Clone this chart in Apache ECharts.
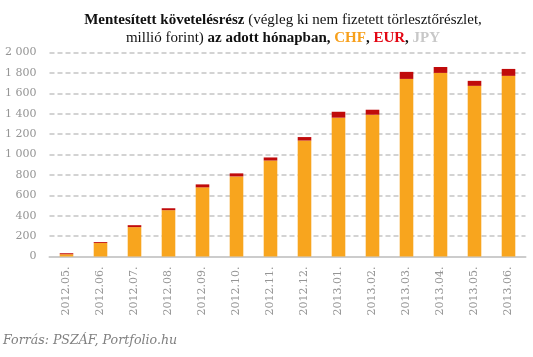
<!DOCTYPE html>
<html><head><meta charset="utf-8">
<script src="https://cdn.jsdelivr.net/npm/echarts@6/dist/echarts.min.js"></script>
<style>html,body{margin:0;padding:0;background:#fff}#c{width:533px;height:357px}</style>
</head><body><div id="c"></div>
<script>
var categories = ['2012.05.','2012.06.','2012.07.','2012.08.','2012.09.','2012.10.','2012.11.','2012.12.','2013.01.','2013.02.','2013.03.','2013.04.','2013.05.','2013.06.'];
var chf = [22, 132, 288, 454, 678, 785, 941, 1137, 1361, 1390, 1741, 1800, 1673, 1771];
var eur = [10, 9, 19, 19, 29, 30, 30, 34, 58, 49, 69, 58, 49, 68];
var jpy = [0, 0, 0, 0, 0, 0, 0, 0, 0, 0, 0, 0, 0, 0];
var yTicks = [0, 200, 400, 600, 800, 1000, 1200, 1400, 1600, 1800, 2000];

var serif = '"Liberation Serif", "DejaVu Serif", serif';
var dserif = '"DejaVu Serif", serif';
var chart = echarts.init(document.getElementById('c'));
chart.setOption({
  animation: false,
  title: {
    left: 278, top: 6, textAlign: 'center',
    text: '{b|Mentesített követelésrész} {n|(végleg ki nem fizetett törlesztőrészlet,}\n{n|millió forint)} {b|az adott hónapban,} {chf|CHF}{b|,} {eur|EUR}{b|,} {jpy|JPY}',
    textStyle: {
      fontFamily: serif, fontSize: 15, lineHeight: 18,
      rich: {
        b: {fontFamily: serif, fontSize: 15, fontWeight: 'bold', color: '#111', lineHeight: 18},
        n: {fontFamily: serif, fontSize: 15, fontWeight: 'normal', color: '#111', lineHeight: 18},
        chf: {fontFamily: serif, fontSize: 15, fontWeight: 'bold', color: '#F7A01C', lineHeight: 18},
        eur: {fontFamily: serif, fontSize: 15, fontWeight: 'bold', color: '#E30613', lineHeight: 18},
        jpy: {fontFamily: serif, fontSize: 15, fontWeight: 'bold', color: '#C8C8C8', lineHeight: 18}
      }
    }
  },
  graphic: [{
    type: 'text', left: 3, top: 334,
    style: {text: 'Forrás: PSZÁF, Portfolio.hu', font: 'italic 12.6px ' + dserif, fill: '#808080'}
  }],
  grid: {left: 49.5, right: 7.5, top: 52.5, bottom: 100.5},
  xAxis: {
    type: 'category', data: categories,
    axisLine: {lineStyle: {color: '#cccccc', width: 2}},
    axisTick: {show: false},
    axisLabel: {rotate: 90, margin: 10, color: '#959595', fontFamily: dserif, fontSize: 11}
  },
  yAxis: {
    type: 'value', min: yTicks[0], max: yTicks[yTicks.length - 1], interval: 200,
    axisLine: {show: false}, axisTick: {show: false},
    splitLine: {lineStyle: {color: '#d3d3d3', width: 2, type: [5, 3]}},
    axisLabel: {
      margin: 13, color: '#959595', fontFamily: dserif, fontSize: 11,
      formatter: function (v) { return String(v).replace(/\B(?=(\d{3})+(?!\d))/g, ' '); }
    }
  },
  series: [
    {name: 'CHF', type: 'bar', stack: 's', data: chf, barWidth: '40%', itemStyle: {color: '#F8A51E'}},
    {name: 'EUR', type: 'bar', stack: 's', data: eur, itemStyle: {color: '#C00B0B'}},
    {name: 'JPY', type: 'bar', stack: 's', data: jpy, itemStyle: {color: '#C8C8C8'}}
  ]
});
</script></body></html>
